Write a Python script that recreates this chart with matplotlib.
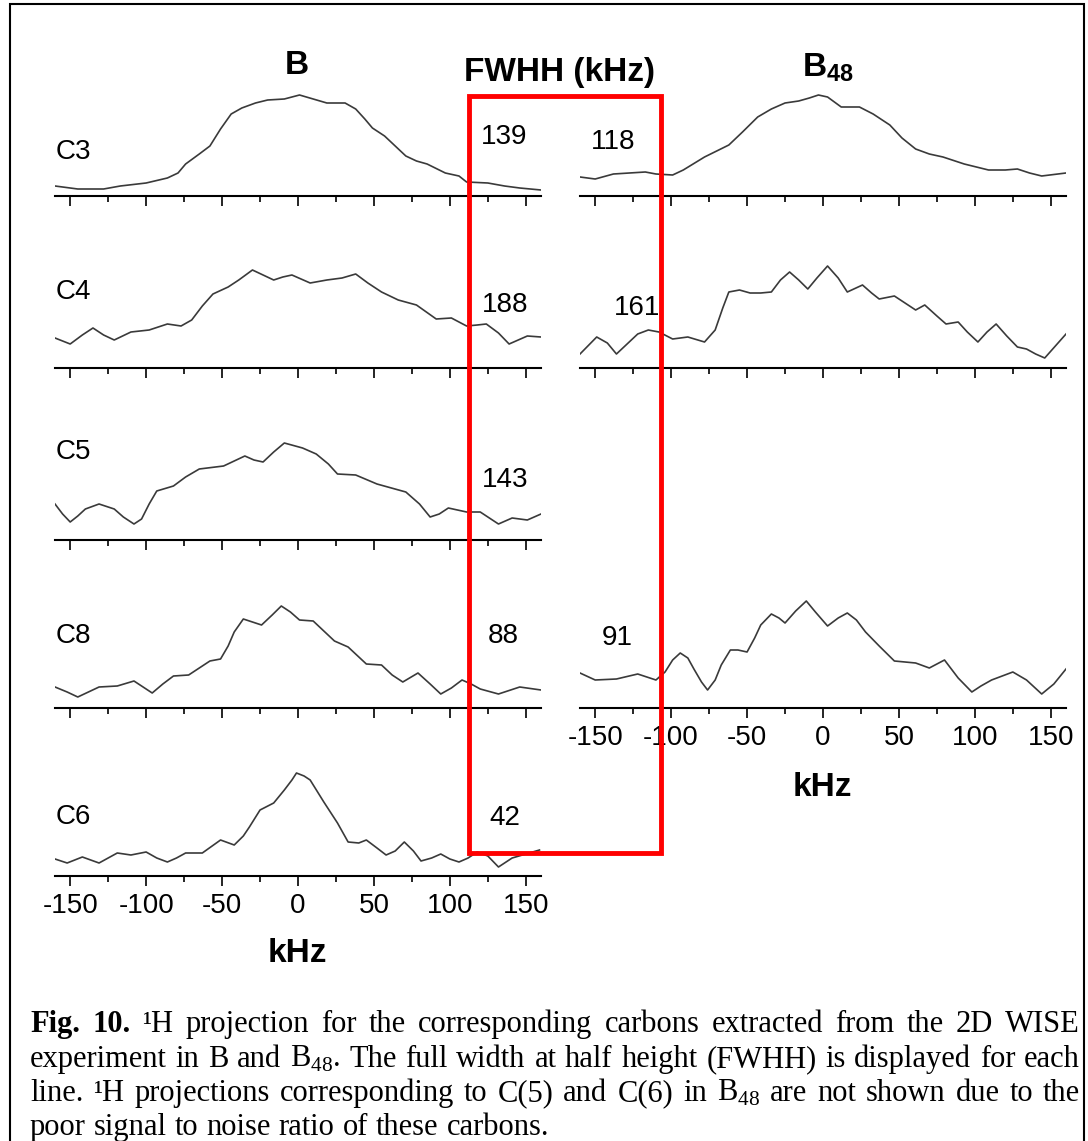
import matplotlib
matplotlib.use('Agg')
import matplotlib.pyplot as plt
from matplotlib.patches import Rectangle

plt.rcParams['font.family'] = ['Liberation Sans', 'DejaVu Sans']
plt.rcParams['mathtext.fontset'] = 'custom'
plt.rcParams['mathtext.rm'] = 'Liberation Serif'
plt.rcParams['mathtext.bf'] = 'Liberation Sans:bold'

W, H = 1088, 1141

# 1H projections, intensity in arbitrary units (height above baseline)
b_c3_khz = [-160, -145, -128, -117, -100, -86, -79, -74, -65, -58, -51, -44, -37, -28, -20, -9, 1,
            10, 19, 31, 38, 44, 49, 57, 64, 71, 78, 85, 97, 106, 111, 125, 136, 146, 160]
b_c3_int = [10, 7, 7, 10, 13, 18, 23, 32, 42, 50, 67, 82, 88, 93, 96, 97, 101,
            97, 93, 93, 87, 77, 68, 60, 50, 40, 35, 32, 23, 20, 14, 13, 10, 8, 6]

b_c4_khz = [-160, -150, -142, -135, -128, -121, -110, -98, -86, -77, -70, -63, -56, -46, -39, -30, -23, -16, -10, -4, 2, 8,
            19, 29, 38, 46, 55, 66, 78, 91, 101, 111, 118, 124, 132, 139, 145, 151, 160]
b_c4_int = [30, 24, 33, 40, 33, 28, 36, 38, 44, 42, 48, 62, 74, 81, 88, 98, 93, 88, 91, 93, 89, 85,
            88, 90, 94, 85, 76, 68, 63, 49, 50, 42, 43, 44, 35, 24, 28, 32, 31]

b_c5_khz = [-160, -155, -150, -145, -140, -131, -121, -115, -108, -103, -98, -93, -82, -74, -65, -49, -42, -35, -29, -23, -16, -9, 3, 12,
            20, 26, 38, 52, 71, 80, 87, 93, 99, 111, 120, 126, 132, 141, 151, 160]
b_c5_int = [36, 26, 18, 24, 31, 36, 31, 23, 16, 21, 36, 49, 54, 63, 71, 74, 79, 84, 80, 78, 88, 97, 92, 86,
            76, 66, 65, 56, 48, 36, 23, 26, 32, 28, 28, 22, 16, 22, 20, 26]

b_c8_khz = [-160, -152, -145, -138, -131, -119, -108, -102, -96, -89, -82, -72, -64, -58, -51, -46, -42, -36, -30, -24, -17, -11, -5, 1, 10,
            17, 24, 33, 45, 55, 62, 69, 79, 87, 94, 101, 108, 114, 120, 132, 146, 160]
b_c8_int = [21, 16, 11, 16, 21, 22, 27, 21, 15, 24, 32, 33, 41, 47, 49, 62, 76, 89, 86, 83, 93, 102, 96, 88, 87,
            77, 67, 61, 44, 43, 33, 26, 35, 24, 14, 20, 28, 24, 19, 14, 21, 18]

b_c6_khz = [-160, -152, -142, -131, -119, -110, -100, -93, -86, -80, -74, -63, -51, -42, -36, -32, -25, -16, -9, -4,
            -1, 4, 8, 17, 26, 33, 40, 45, 52, 58, 64, 70, 76, 81, 88, 94, 100, 106, 112, 118, 125, 132, 141, 159]
b_c6_int = [17, 13, 19, 13, 23, 21, 24, 18, 14, 18, 23, 23, 36, 31, 40, 49, 66, 73, 86, 96,
            103, 100, 96, 74, 53, 34, 33, 36, 28, 21, 25, 34, 25, 15, 18, 22, 17, 14, 18, 24, 20, 9, 18, 26]

b48_c3_khz = [-160, -150, -138, -117, -110, -99, -92, -78, -62, -53, -43, -34, -25, -16, -9, -3, 3, 12,
              24, 33, 44, 52, 61, 70, 79, 93, 109, 120, 128, 136, 144, 160]
b48_c3_int = [19, 17, 22, 24, 22, 21, 26, 39, 51, 64, 79, 87, 93, 95, 98, 101, 99, 89,
              89, 82, 71, 58, 47, 42, 39, 32, 26, 26, 27, 23, 20, 23]

b48_c4_khz = [-160, -149, -142, -136, -129, -122, -115, -108, -99, -89, -78, -71, -66, -62, -55, -48, -41, -34, -28, -22, -16, -10, -4,
              3, 10, 16, 26, 32, 37, 47, 54, 61, 67, 75, 81, 89, 95, 102, 108, 114, 121, 128, 134, 140, 146, 153, 160]
b48_c4_int = [14, 31, 25, 14, 24, 34, 38, 36, 29, 31, 26, 38, 60, 76, 78, 75, 75, 76, 88, 96, 88, 79, 90,
              102, 90, 76, 83, 75, 69, 72, 65, 58, 63, 52, 44, 46, 36, 26, 36, 44, 32, 21, 19, 14, 10, 22, 34]

b48_c8_khz = [-160, -150, -136, -122, -110, -104, -99, -94, -89, -85, -80, -76, -71, -67, -61, -56, -50, -45, -41, -34, -29, -25, -18, -11,
              -5, 3, 10, 16, 22, 28, 37, 47, 61, 70, 80, 89, 98, 104, 111, 125, 134, 144, 152, 160]
b48_c8_int = [35, 28, 29, 34, 28, 36, 48, 55, 50, 39, 26, 18, 28, 43, 58, 58, 56, 70, 83, 94, 90, 85, 97, 107,
              96, 82, 90, 95, 88, 76, 62, 47, 45, 40, 48, 30, 16, 22, 28, 36, 28, 14, 24, 39]

rows = ['C3', 'C4', 'C5', 'C8', 'C6']
fwhh_b = ['139', '188', '143', '88', '42']
fwhh_b48 = ['118', '161', '91']

b_data = [(b_c3_khz, b_c3_int), (b_c4_khz, b_c4_int), (b_c5_khz, b_c5_int),
          (b_c8_khz, b_c8_int), (b_c6_khz, b_c6_int)]
b48_data = [(b48_c3_khz, b48_c3_int), (b48_c4_khz, b48_c4_int), (b48_c8_khz, b48_c8_int)]

major = [-150, -100, -50, 0, 50, 100, 150]
minor = [-125, -75, -25, 25, 75, 125]

# layout (pixels)
row_y = [196, 368, 540, 708, 876]
b48_rows = [0, 1, 3]
left_x = (55, 541)
right_x = (580, 1066)
panel_h = 118


def fx(x):
  return x / W


def fy(y):
  return 1 - y / H


def make_panel(x_rng, y_axis, khz, vals, labels):
  ax = fig.add_axes([fx(x_rng[0]), fy(y_axis), (x_rng[1] - x_rng[0]) / W, panel_h / H])
  ax.patch.set_alpha(0)
  ax.plot(khz, vals, color='#3a3a3a', lw=1.2, solid_joinstyle='round')
  ax.set_xlim(-160, 160)
  ax.set_ylim(0, panel_h)
  for s in ['top', 'left', 'right']:
    ax.spines[s].set_visible(False)
  ax.spines['bottom'].set_linewidth(1.5)
  ax.set_yticks([])
  ax.set_xticks(major)
  ax.set_xticks(minor, minor=True)
  ax.tick_params(axis='x', which='major', direction='out', length=7, width=1.2, pad=5, labelsize=20)
  ax.tick_params(axis='x', which='minor', direction='out', length=4.5, width=1.2)
  if labels:
    ax.set_xticklabels([str(v) for v in major])
  else:
    ax.set_xticklabels([])
  return ax


fig = plt.figure(figsize=(W / 100, H / 100), dpi=100)

for i, (khz, vals) in enumerate(b_data):
  make_panel(left_x, row_y[i], khz, vals, i == len(b_data) - 1)

for j, (khz, vals) in enumerate(b48_data):
  make_panel(right_x, row_y[b48_rows[j]], khz, vals, j == len(b48_data) - 1)

# row labels and FWHH values
label_y = [152, 292, 452, 636, 817]
fwhh_b_pos = [(504, 137), (505, 305), (505, 480), (503, 636), (505, 818)]
fwhh_b48_pos = [(613, 142), (637, 308), (617, 638)]

for lab, ly in zip(rows, label_y):
  fig.text(fx(56), fy(ly), lab, fontsize=20, ha='left', va='center')
for val, (px, py) in zip(fwhh_b, fwhh_b_pos):
  fig.text(fx(px), fy(py), val, fontsize=20, ha='center', va='center')
for val, (px, py) in zip(fwhh_b48, fwhh_b48_pos):
  fig.text(fx(px), fy(py), val, fontsize=20, ha='center', va='center')

fig.text(fx(297), fy(66), 'B', fontsize=24, fontweight='bold', ha='center', va='center')
fig.text(fx(560), fy(72), 'FWHH (kHz)', fontsize=24, fontweight='bold', ha='center', va='center')
fig.text(fx(828), fy(68), r'B$_{\mathbf{48}}$', fontsize=24, fontweight='bold', ha='center', va='center')
fig.text(fx(297), fy(953), 'kHz', fontsize=24, fontweight='bold', ha='center', va='center')
fig.text(fx(822), fy(787), 'kHz', fontsize=24, fontweight='bold', ha='center', va='center')

# red box around the FWHH column
fig.add_artist(Rectangle((fx(469), fy(853)), (661 - 469) / W, (853 - 96) / H, fill=False,
                         ec='#ff0000', lw=3.5, zorder=10, transform=fig.transFigure))
# page border
fig.add_artist(Rectangle((fx(10), -0.05), (1084 - 10) / W, fy(4) + 0.05, fill=False,
                         ec='black', lw=1.5, zorder=10, transform=fig.transFigure))

# caption, justified word by word
caption = [
  [('Fig.', 'bold'), ('10.', 'bold'), ('¹H', 'normal'), 'projection', 'for', 'the', 'corresponding',
   'carbons', 'extracted', 'from', 'the', '2D', 'WISE'],
  'experiment in B and B$_{\\mathrm{48}}$. The full width at half height (FWHH) is displayed for each'.split(' '),
  'line. ¹H projections corresponding to C(5) and C(6) in B$_{\\mathrm{48}}$ are not shown due to the'.split(' '),
  'poor signal to noise ratio of these carbons.'.split(' '),
]
cap_base = [1032, 1067, 1101, 1135]
cap_x0, cap_x1 = 30, 1080

renderer = fig.canvas.get_renderer()
for li, words in enumerate(caption):
  texts = []
  for w in words:
    if isinstance(w, tuple):
      s, wt = w
    else:
      s, wt = w, 'normal'
    t = fig.text(0, fy(cap_base[li]), s, fontsize=22, family='Liberation Serif',
                 fontweight=wt, ha='left', va='baseline')
    texts.append(t)
  widths = [t.get_window_extent(renderer).width for t in texts]
  if li < len(caption) - 1:
    gap = (cap_x1 - cap_x0 - sum(widths)) / (len(texts) - 1)
  else:
    gap = 8
  x = cap_x0
  for t, wd in zip(texts, widths):
    t.set_x(fx(x))
    x += wd + gap

fig.savefig('out.png', dpi=100)
